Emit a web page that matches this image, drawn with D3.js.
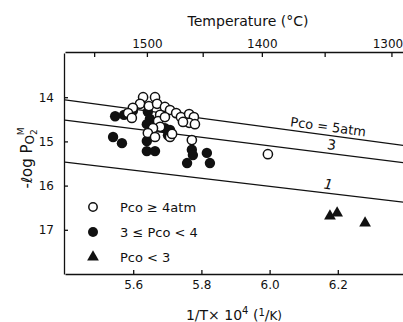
<!DOCTYPE html>
<html>
<head>
<meta charset="utf-8">
<script src="https://cdn.jsdelivr.net/npm/d3@7"></script>
<style>
  body { margin: 0; background: #fff; }
  svg { display: block; }
  text { font-family: "DejaVu Sans", sans-serif; fill: #111; }
  .axis path, .axis line { stroke: #111; stroke-width: 1.3; }
  .axis text { font-size: 12px; }
</style>
</head>
<body>
<div id="chart"></div>
<script>
// Values (x = 1/T x 10^4, y = -log PO2)
const bottomTicks = [5.6, 5.8, 6.0, 6.2];
const leftTicks = [14, 15, 16, 17];
const tempTicks = [1550, 1500, 1450, 1400, 1350, 1300];
const tempLabels = [1500, 1400, 1300];

const openPts = [
  [5.629, 14.00], [5.664, 14.00], [5.620, 14.15], [5.646, 14.20], [5.670, 14.15],
  [5.693, 14.22], [5.708, 14.29], [5.726, 14.36], [5.740, 14.45], [5.764, 14.38],
  [5.778, 14.45], [5.764, 14.58], [5.781, 14.61], [5.746, 14.56], [5.599, 14.24],
  [5.585, 14.36], [5.596, 14.47], [5.679, 14.40], [5.673, 14.54], [5.693, 14.45],
  [5.679, 14.67], [5.658, 14.70], [5.643, 14.81], [5.664, 14.90], [5.708, 14.90],
  [5.714, 14.83], [5.772, 14.97], [5.995, 15.29]
];
const filledPts = [
  [5.547, 14.43], [5.573, 14.40], [5.599, 14.31], [5.541, 14.90], [5.567, 15.04],
  [5.643, 14.33], [5.649, 14.49], [5.640, 14.61], [5.664, 14.63], [5.693, 14.70],
  [5.708, 14.74], [5.702, 14.86], [5.640, 14.99], [5.640, 15.22], [5.664, 15.22],
  [5.772, 15.19], [5.775, 15.31], [5.758, 15.49], [5.816, 15.26], [5.825, 15.49]
];
const trianglePts = [[6.177, 16.69], [6.198, 16.62], [6.280, 16.85]];

// iso-Pco lines, end points at x = 5.4 and x = 6.4
const lineNames = ['Pco = 5atm', '3', '1'];
const lineLeft = [14.06, 14.52, 15.47];
const lineRight = [15.10, 15.49, 16.38];

const width = 403, height = 322;

const svg = d3.select('#chart').append('svg')
  .attr('width', width)
  .attr('height', height);

const x = d3.scaleLinear().domain([5.4, 6.4]).range([65, 406]);
const y = d3.scaleLinear().domain([13, 18]).range([53, 274]);

// axes
svg.append('g')
  .attr('class', 'axis')
  .attr('transform', 'translate(0,274)')
  .call(d3.axisBottom(x).tickValues(bottomTicks).tickFormat(d3.format('.1f'))
    .tickSizeInner(-4).tickSizeOuter(0).tickPadding(6));

svg.append('g')
  .attr('class', 'axis')
  .attr('transform', 'translate(64,0)')
  .call(d3.axisLeft(y).tickValues(leftTicks).tickFormat(d3.format('d'))
    .tickSizeInner(-4).tickSizeOuter(0).tickPadding(10));

const topAxis = svg.append('g')
  .attr('class', 'axis')
  .attr('transform', 'translate(0,52)')
  .call(d3.axisTop(x).tickValues(tempTicks.map(t => 1e4 / (t + 273)))
    .tickFormat((d, i) => tempLabels.includes(tempTicks[i]) ? tempTicks[i] : '')
    .tickSizeInner(-5).tickSizeOuter(0).tickPadding(4));
// last label sits against the right edge
topAxis.selectAll('.tick text').filter((d, i) => tempTicks[i] === 1300).attr('dx', -4);

// titles
svg.append('text')
  .attr('x', 248).attr('y', 26)
  .attr('text-anchor', 'middle')
  .style('font-size', '14px')
  .text('Temperature  (°C)');

const xt = svg.append('text')
  .attr('x', 234).attr('y', 320)
  .attr('text-anchor', 'middle')
  .style('font-size', '14px');
xt.append('tspan').text('1/T× 10');
xt.append('tspan').attr('dy', -6).style('font-size', '10px').text('4');
xt.append('tspan').attr('dy', 6).text('  (');
xt.append('tspan').attr('dy', -4).style('font-size', '10px').text('1');
xt.append('tspan').attr('dy', 4).text('/');
xt.append('tspan').style('font-size', '12px').text('K)');

const yt = svg.append('text')
  .attr('transform', 'translate(32,158) rotate(-90)')
  .attr('text-anchor', 'middle')
  .style('font-size', '15px');
yt.append('tspan').text('-ℓog P');
yt.append('tspan').attr('dy', 2).style('font-size', '12px').text('O');
yt.append('tspan').attr('dy', 3).style('font-size', '9px').text('2');
yt.append('tspan').attr('dy', -13).attr('dx', -6).style('font-size', '9px').text('M');

// iso-Pco lines
const plot = svg.append('g');
lineNames.forEach((n, i) => {
  plot.append('line')
    .attr('x1', x(5.4)).attr('y1', y(lineLeft[i]))
    .attr('x2', x(6.4)).attr('y2', y(lineRight[i]))
    .attr('stroke', '#111').attr('stroke-width', 1.3);
});

const angle = Math.atan2(y(lineRight[0]) - y(lineLeft[0]), x(6.4) - x(5.4)) * 180 / Math.PI;
const lineY = (i, xv) => lineLeft[i] + (lineRight[i] - lineLeft[i]) * (xv - 5.4);
const labelX = [6.17, 6.18, 6.17];
lineNames.forEach((n, i) => {
  svg.append('text')
    .attr('transform', `translate(${x(labelX[i])},${y(lineY(i, labelX[i])) - 4}) rotate(${angle})`)
    .attr('text-anchor', 'middle')
    .style('font-size', i === 0 ? '13px' : '14px')
    .style('font-style', i === 2 ? 'italic' : null)
    .text(n);
});

// points
plot.selectAll('.filled')
  .data(filledPts)
  .enter().append('circle')
    .attr('class', 'filled')
    .attr('cx', d => x(d[0]))
    .attr('cy', d => y(d[1]))
    .attr('r', 5.2)
    .attr('fill', '#111');

plot.selectAll('.open')
  .data(openPts)
  .enter().append('circle')
    .attr('class', 'open')
    .attr('cx', d => x(d[0]))
    .attr('cy', d => y(d[1]))
    .attr('r', 4.6)
    .attr('fill', '#fff')
    .attr('stroke', '#111')
    .attr('stroke-width', 1.5);

const tri = d3.symbol().type(d3.symbolTriangle).size(60);
plot.selectAll('.tri')
  .data(trianglePts)
  .enter().append('path')
    .attr('class', 'tri')
    .attr('transform', d => `translate(${x(d[0])},${y(d[1])})`)
    .attr('d', tri)
    .attr('fill', '#111');

// legend
const legendItems = ['Pco ≥ 4atm', '3 ≤ Pco < 4', 'Pco < 3'];
const legend = svg.append('g');
legendItems.forEach((label, i) => {
  const ly = 207 + i * 25;
  if (i === 0) {
    legend.append('circle').attr('cx', 93).attr('cy', ly).attr('r', 4.2)
      .attr('fill', '#fff').attr('stroke', '#111').attr('stroke-width', 1.5);
  } else if (i === 1) {
    legend.append('circle').attr('cx', 93).attr('cy', ly).attr('r', 5).attr('fill', '#111');
  } else {
    legend.append('path').attr('transform', `translate(93,${ly})`).attr('d', tri).attr('fill', '#111');
  }
  legend.append('text')
    .attr('x', 120).attr('y', ly + 5)
    .style('font-size', '13px')
    .text(label);
});
</script>
</body>
</html>
